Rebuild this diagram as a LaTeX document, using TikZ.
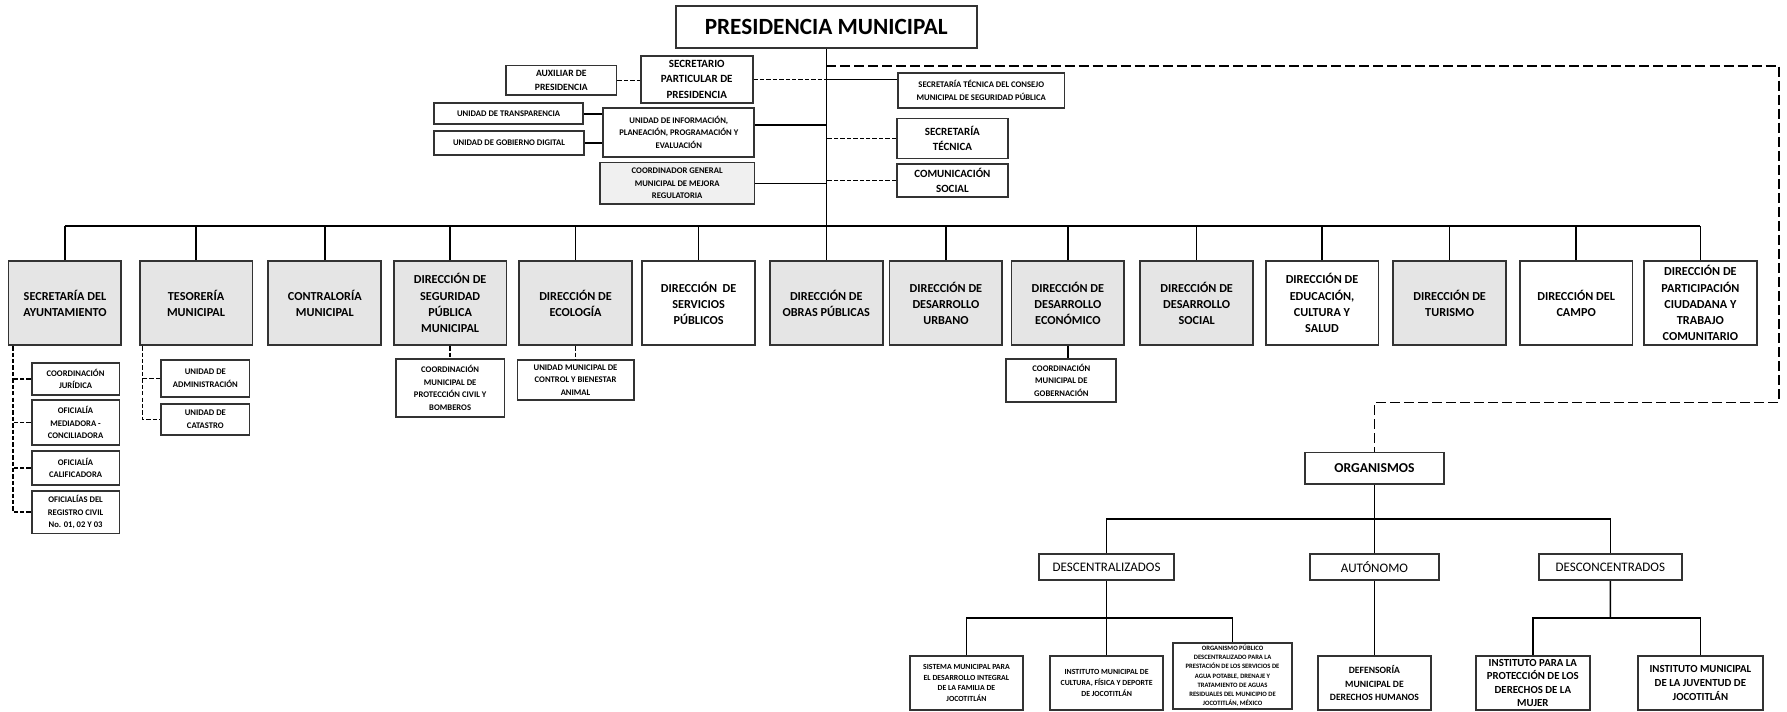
\documentclass[tikz,border=0pt]{standalone}
\usepackage{fontspec}
\setmainfont{Carlito}
\usepackage{tikz}
\usetikzlibrary{calc}

\begin{document}
\begin{tikzpicture}[x=0.2mm,y=-0.2mm,line width=0.75pt,
                    caja/.style={draw=black!80,line width=0.9pt,fill=white,align=center,inner sep=1pt},
                    gris/.style={caja,fill=black!10},
                    dir/.style={minimum width=19.8mm,minimum height=14.8mm,font=\bfseries\fontsize{6.1}{8.1}\selectfont},
                    medio/.style={font=\bfseries\fontsize{5.5}{7.6}\selectfont},
                    chico/.style={font=\bfseries\fontsize{4.3}{6.2}\selectfont},
                    mini/.style={font=\bfseries\fontsize{3.9}{5.4}\selectfont},
                    micro/.style={font=\bfseries\fontsize{3.3}{4.6}\selectfont},
                    tipo/.style={caja,minimum height=4.6mm,font=\fontsize{6.5}{8}\selectfont},
                    discont/.style={dash pattern=on 2.2pt off 1pt},
                    largo/.style={dash pattern=on 5pt off 2pt}]

	\useasboundingbox (0,0) rectangle (1568,624);

	\node[caja,minimum width=52.8mm,minimum height=7.4mm,font=\bfseries\fontsize{11.6}{14}\selectfont] (PM) at (725,23.5) {PRESIDENCIA MUNICIPAL};

	\node[caja,minimum width=19.4mm,minimum height=5.2mm,font=\bfseries\fontsize{4.8}{7.1}\selectfont] (AUX) at (492.5,70.5) {AUXILIAR DE\\PRESIDENCIA};
	\node[caja,medio,minimum width=19.6mm,minimum height=8.2mm] (SPP) at (611.4,69.6) {SECRETARIO\\PARTICULAR DE\\PRESIDENCIA};
	\node[caja,chico,minimum width=26.2mm,minimum height=3.7mm] (TRA) at (446.3,99.9) {UNIDAD DE TRANSPARENCIA};
	\node[caja,chico,minimum width=26.3mm,minimum height=4.2mm] (UGD) at (446.6,125.5) {UNIDAD DE GOBIERNO DIGITAL};
	\node[caja,chico,minimum width=26.5mm,minimum height=8.6mm] (UIP) at (595.6,116) {UNIDAD DE INFORMACIÓN,\\PLANEACIÓN, PROGRAMACIÓN Y\\EVALUACIÓN};
	\node[caja,chico,fill=black!6,minimum width=27.1mm,minimum height=7.3mm] (CGM) at (594.2,160.9) {COORDINADOR GENERAL\\MUNICIPAL DE MEJORA\\REGULATORIA};

	\node[caja,chico,minimum width=29.2mm,minimum height=6.2mm] (STC) at (861,79.5) {SECRETARÍA TÉCNICA DEL CONSEJO\\MUNICIPAL DE SEGURIDAD PÚBLICA};
	\node[caja,medio,minimum width=19.5mm,minimum height=7mm] (STE) at (835.7,121.5) {SECRETARÍA\\TÉCNICA};
	\node[caja,medio,minimum width=19.5mm,minimum height=5.8mm] (COM) at (835.7,158.5) {COMUNICACIÓN\\SOCIAL};

	\node[gris,dir] (SAY) at (57,266) {SECRETARÍA DEL\\AYUNTAMIENTO};
	\node[gris,dir] (TES) at (172,266) {TESORERÍA\\MUNICIPAL};
	\node[gris,dir] (CTR) at (285,266) {CONTRALORÍA\\MUNICIPAL};
	\node[gris,dir] (DSP) at (395,266) {DIRECCIÓN DE\\SEGURIDAD\\PÚBLICA\\MUNICIPAL};
	\node[gris,dir] (ECO) at (505,266) {DIRECCIÓN DE\\ECOLOGÍA};
	\node[caja,dir] (DSV) at (613,266) {DIRECCIÓN~~DE\\SERVICIOS\\PÚBLICOS};
	\node[gris,dir] (DOP) at (725,266) {DIRECCIÓN DE\\OBRAS PÚBLICAS};
	\node[gris,dir] (DDU) at (830,266) {DIRECCIÓN DE\\DESARROLLO\\URBANO};
	\node[gris,dir] (DDE) at (937,266) {DIRECCIÓN DE\\DESARROLLO\\ECONÓMICO};
	\node[gris,dir] (DDS) at (1050,266) {DIRECCIÓN DE\\DESARROLLO\\SOCIAL};
	\node[caja,dir] (EDU) at (1160,266) {DIRECCIÓN DE\\EDUCACIÓN,\\CULTURA Y\\SALUD};
	\node[gris,dir] (TUR) at (1272,266) {DIRECCIÓN DE\\TURISMO};
	\node[caja,dir] (CAM) at (1383,266) {DIRECCIÓN DEL\\CAMPO};
	\node[caja,dir] (DPC) at (1492,266) {DIRECCIÓN DE\\PARTICIPACIÓN\\CIUDADANA Y\\TRABAJO\\COMUNITARIO};

	\node[caja,chico,minimum width=15.4mm,minimum height=5.6mm] (CJU) at (66.3,332.7) {COORDINACIÓN\\JURÍDICA};
	\node[caja,chico,minimum width=15.4mm,minimum height=7.9mm] (OMC) at (66.3,370.8) {OFICIALÍA\\MEDIADORA -\\CONCILIADORA};
	\node[caja,chico,minimum width=15.4mm,minimum height=5.9mm] (OCA) at (66.3,410.8) {OFICIALÍA\\CALIFICADORA};
	\node[caja,chico,minimum width=15.4mm,minimum height=7.5mm] (ORC) at (66.3,449.3) {OFICIALÍAS DEL\\REGISTRO CIVIL\\No. 01, 02 Y 03};
	\node[caja,chico,minimum width=15.5mm,minimum height=6.4mm] (UAD) at (180.2,332) {UNIDAD DE\\ADMINISTRACIÓN};
	\node[caja,chico,minimum width=15.5mm,minimum height=5.4mm] (UCA) at (180.2,368) {UNIDAD DE\\CATASTRO};
	\node[caja,chico,minimum width=19.1mm,minimum height=10.1mm] (PCB) at (395,340.3) {COORDINACIÓN\\MUNICIPAL DE\\PROTECCIÓN CIVIL Y\\BOMBEROS};
	\node[caja,chico,minimum width=20.4mm,minimum height=7mm] (UBA) at (505,333.5) {UNIDAD MUNICIPAL DE\\CONTROL Y BIENESTAR\\ANIMAL};
	\node[caja,chico,minimum width=19.3mm,minimum height=7.5mm] (CMG) at (931.3,333.7) {COORDINACIÓN\\MUNICIPAL DE\\GOBERNACIÓN};

	\node[caja,minimum width=24.4mm,minimum height=5.6mm,font=\bfseries\fontsize{6.8}{8}\selectfont] (ORG) at (1206,411) {ORGANISMOS};
	\node[tipo,minimum width=23.6mm] (DES) at (971,497.5) {DESCENTRALIZADOS};
	\node[tipo,minimum width=22.6mm] (AUT) at (1206,497.5) {AUTÓNOMO};
	\node[tipo,minimum width=25mm] (DCO) at (1413,497.5) {DESCONCENTRADOS};

	\node[caja,mini,minimum width=19.8mm,minimum height=9.5mm] (SMD) at (848,599.3) {SISTEMA MUNICIPAL PARA\\EL DESARROLLO INTEGRAL\\DE LA FAMILIA DE\\JOCOTITLÁN};
	\node[caja,mini,minimum width=19.9mm,minimum height=9.5mm] (IMC) at (971,599.3) {INSTITUTO MUNICIPAL DE\\CULTURA, FÍSICA Y DEPORTE\\DE JOCOTITLÁN};
	\node[caja,micro,minimum width=20.8mm,minimum height=11.6mm] (OPD) at (1081.5,593) {ORGANISMO PÚBLICO\\DESCENTRALIZADO PARA LA\\PRESTACIÓN DE LOS SERVICIOS DE\\AGUA POTABLE, DRENAJE Y\\TRATAMIENTO DE AGUAS\\RESIDUALES DEL MUNICIPIO DE\\JOCOTITLÁN, MÉXICO};
	\node[caja,minimum width=19.9mm,minimum height=9.5mm,font=\bfseries\fontsize{4.8}{6.9}\selectfont] (DMH) at (1206,599.3) {DEFENSORÍA\\MUNICIPAL DE\\DERECHOS HUMANOS};
	\node[caja,medio,minimum width=20mm,minimum height=9.5mm,font=\bfseries\fontsize{5.4}{6.6}\selectfont] (IPM) at (1345,599.3) {INSTITUTO PARA LA\\PROTECCIÓN DE LOS\\DERECHOS DE LA\\MUJER};
	\node[caja,minimum width=22mm,minimum height=9.5mm,font=\bfseries\fontsize{5.4}{7.1}\selectfont] (IMJ) at (1492,599.3) {INSTITUTO MUNICIPAL\\DE LA JUVENTUD DE\\JOCOTITLÁN};

	\coordinate (bus) at ([yshift=6mm]DOP.north);
	\coordinate (esq) at (1561,58);
	\coordinate (esq2) at (1561,353);
	\coordinate (orgbus) at ($(ORG.south)!0.5!(ORG.south |- AUT.north)$);
	\coordinate (desbus) at ($(DES.south)!0.5!(DES.south |- IMC.north)$);
	\coordinate (dcobus) at ($(DCO.south)!0.5!(DCO.south |- IPM.north)$);

	\path (PM) edge (DOP);
	\draw[discont] (AUX.east) -- (AUX.east -| SPP.west);
	\draw[discont] (SPP.east) -- (SPP.east -| PM.south);
	\draw (SPP.east -| PM.south) -- (SPP.east -| STC.west);
	\draw (TRA.east) -- (TRA.east -| UIP.west);
	\draw (UGD.east) -- (UGD.east -| UIP.west);
	\draw ([yshift=1.3mm]UIP.east) -- ([yshift=1.3mm]UIP.east -| PM.south);
	\draw (CGM.east) -- (CGM.east -| PM.south);
	\draw[discont] (STE.west) -- (STE.west -| PM.south);
	\draw[discont] (COM.west) -- (COM.west -| PM.south);
	\draw[largo] (PM.south |- esq) -- (esq) -- (esq2) -| (ORG.north);

	\draw (SAY.north |- bus) -- (DPC.north |- bus);
	\draw (SAY.north) -- (SAY.north |- bus) (TES.north) -- (TES.north |- bus)
	      (CTR.north) -- (CTR.north |- bus) (DSP.north) -- (DSP.north |- bus)
	      (ECO.north) -- (ECO.north |- bus) (DSV.north) -- (DSV.north |- bus)
	      (DDU.north) -- (DDU.north |- bus) (DDE.north) -- (DDE.north |- bus)
	      (DDS.north) -- (DDS.north |- bus) (EDU.north) -- (EDU.north |- bus)
	      (TUR.north) -- (TUR.north |- bus) (CAM.north) -- (CAM.north |- bus)
	      (DPC.north) -- (DPC.north |- bus);

	\draw[discont] ([xshift=0.9mm]SAY.south west) |- (ORC.west);
	\draw[discont] (CJU.west) -- ([xshift=0.9mm]CJU.west -| SAY.south west)
	               (OMC.west) -- ([xshift=0.9mm]OMC.west -| SAY.south west)
	               (OCA.west) -- ([xshift=0.9mm]OCA.west -| SAY.south west);
	\draw[discont] ([xshift=0.7mm]TES.south west) |- (UCA.west);
	\draw[discont] (UAD.west) -- ([xshift=0.7mm]UAD.west -| TES.south west);
	\path[discont] (DSP) edge (PCB);
	\path[discont] (ECO) edge (UBA);
	\draw (DDE.south) -- (DDE.south |- CMG.north);

	\path (ORG) edge (AUT) (AUT) edge (DMH);
	\draw (DES.north) |- (orgbus) -| (DCO.north);
	\path (DES) edge (IMC);
	\draw (SMD.north) |- (desbus) -| (OPD.north);
	\draw (DCO.south) -- (dcobus);
	\draw (IPM.north) |- (dcobus) -| (IMJ.north);

\end{tikzpicture}
\end{document}
